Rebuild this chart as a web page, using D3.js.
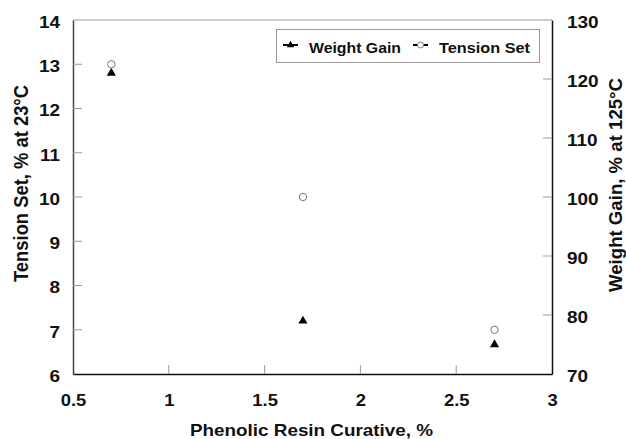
<!DOCTYPE html>
<html><head><meta charset="utf-8">
<script src="https://cdn.jsdelivr.net/npm/d3@7"></script>
<style>body{margin:0;background:#fff}svg{display:block}text{font-family:"Liberation Sans",Arial,sans-serif;font-weight:bold;fill:#111}</style>
</head><body><svg width="626" height="439"></svg>
<script>
const curative = [0.7, 1.7, 2.7];
const tensionSet = [13, 10, 7];
const weightGain = [121, 79, 75];
const xTicks = [0.5, 1, 1.5, 2, 2.5, 3];
const yLeftTicks = [6, 7, 8, 9, 10, 11, 12, 13, 14];
const yRightTicks = [70, 80, 90, 100, 110, 120, 130];

const svg = d3.select("svg");
const L = 73, R = 552, T = 20, B = 374;
const SX = 1.15; // horizontal stretch of text
const x = d3.scaleLinear().domain([0.5, 3]).range([L, R]);
const yL = d3.scaleLinear().domain([6, 14]).range([B, T]);
const yR = d3.scaleLinear().domain([70, 130]).range([B, T]);

svg.append("line").attr("x1", L).attr("x2", R).attr("y1", T).attr("y2", T).attr("stroke", "#999").attr("stroke-width", 1);

// left axis
const gl = svg.append("g").attr("transform", `translate(${L},0)`)
  .call(d3.axisLeft(yL).tickValues(yLeftTicks).tickSize(0).tickPadding(13).tickFormat(d3.format("d")));
gl.select(".domain").attr("stroke", "#444").attr("stroke-width", 1.5);
gl.selectAll(".tick text").attr("font-size", 16.5).attr("x", -13 / SX).attr("dy", "0.45em").attr("transform", `scale(${SX},1)`);
svg.append("g").selectAll("line").data(yLeftTicks.slice(1, -1)).join("line")
  .attr("x1", L).attr("x2", L + 9).attr("y1", d => yL(d)).attr("y2", d => yL(d)).attr("stroke", "#999");

// right axis
const gr = svg.append("g").attr("transform", `translate(${R},0)`)
  .call(d3.axisRight(yR).tickValues(yRightTicks).tickSize(0).tickPadding(15).tickFormat(d3.format("d")));
gr.select(".domain").attr("stroke", "#111").attr("stroke-width", 1.5);
gr.selectAll(".tick text").attr("font-size", 16.5).attr("x", 15 / SX).attr("dy", "0.45em").attr("transform", `scale(${SX},1)`);
svg.append("g").selectAll("line").data(yRightTicks.slice(1, -1)).join("line")
  .attr("x1", R).attr("x2", R - 9).attr("y1", d => yR(d)).attr("y2", d => yR(d)).attr("stroke", "#999");

// bottom axis
const gb = svg.append("g").attr("transform", `translate(0,${B})`)
  .call(d3.axisBottom(x).tickValues(xTicks).tickSize(0).tickPadding(21).tickFormat(d => String(d)));
gb.select(".domain").attr("stroke", "#111").attr("stroke-width", 1.5);
gb.selectAll(".tick text").attr("font-size", 16).attr("transform", `scale(${SX},1)`);
svg.append("g").selectAll("line").data(xTicks.slice(1, -1)).join("line")
  .attr("x1", d => x(d)).attr("x2", d => x(d)).attr("y1", B).attr("y2", B - 9).attr("stroke", "#999");

// axis titles
svg.append("text").attr("x", 311.5).attr("y", 435.5).attr("text-anchor", "middle").attr("font-size", 16.5)
  .attr("textLength", 243).attr("lengthAdjust", "spacingAndGlyphs")
  .text("Phenolic Resin Curative, %");
svg.append("text").attr("transform", `translate(28,183.5) rotate(-90)`).attr("text-anchor", "middle").attr("font-size", 20)
  .attr("textLength", 197).attr("lengthAdjust", "spacingAndGlyphs")
  .text("Tension Set, % at 23°C");
svg.append("text").attr("transform", `translate(622,185) rotate(-90)`).attr("text-anchor", "middle").attr("font-size", 19)
  .attr("textLength", 214).attr("lengthAdjust", "spacingAndGlyphs")
  .text("Weight Gain, %  at 125°C");

const data = curative.map((c, i) => ({c, ts: tensionSet[i], wg: weightGain[i]}));
svg.append("g").selectAll("path").data(data).join("path")
  .attr("d", d3.symbol().type(d3.symbolTriangle).size(36)).attr("transform", d => `translate(${x(d.c)},${yR(d.wg)})`).attr("fill", "#000");
svg.append("g").selectAll("circle").data(data).join("circle")
  .attr("cx", d => x(d.c)).attr("cy", d => yL(d.ts)).attr("r", 3.7).attr("fill", "#fff").attr("stroke", "#777").attr("stroke-width", 1);

// legend
const lg = svg.append("g");
lg.append("rect").attr("x", 276.5).attr("y", 29.5).attr("width", 263).attr("height", 33).attr("fill", "#fff").attr("stroke", "#999");
lg.append("line").attr("x1", 283).attr("x2", 298).attr("y1", 45).attr("y2", 45).attr("stroke", "#000").attr("stroke-width", 2);
lg.append("path").attr("d", d3.symbol().type(d3.symbolTriangle).size(24)).attr("transform", "translate(290.5,45)").attr("fill", "#000");
lg.append("text").attr("x", 309).attr("y", 53).attr("font-size", 15.5)
  .attr("textLength", 92).attr("lengthAdjust", "spacingAndGlyphs").text("Weight Gain");
lg.append("line").attr("x1", 413).attr("x2", 428).attr("y1", 45).attr("y2", 45).attr("stroke", "#000").attr("stroke-width", 2);
lg.append("circle").attr("cx", 420.5).attr("cy", 45).attr("r", 3).attr("fill", "#fff").attr("stroke", "#777");
lg.append("text").attr("x", 439).attr("y", 53).attr("font-size", 15.5)
  .attr("textLength", 91).attr("lengthAdjust", "spacingAndGlyphs").text("Tension Set");
</script></body></html>
